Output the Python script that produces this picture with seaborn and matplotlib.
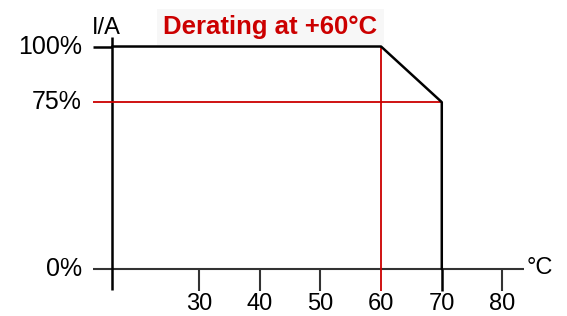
import matplotlib
matplotlib.use("Agg")
import matplotlib.pyplot as plt
import seaborn as sns
import pandas as pd

# -------------------------------
# Data
# -------------------------------
temp_c = [15.7, 60, 70, 70]          # derating curve, °C
current_pct = [100, 100, 75, 0]      # output current, %
x_ticks = [30, 40, 50, 60, 70, 80]
y_ticks = [0, 75, 100]
y_tick_labels = ["0%", "75%", "100%"]
derate_temp = 60
derate_level = 75
end_temp = 70

curve = pd.DataFrame({"Temp": temp_c, "Current": current_pct})

sns.set_style("white")
plt.rcParams["font.family"] = ["Liberation Sans", "DejaVu Sans"]
plt.rcParams["text.color"] = "black"

RED = "#cc0000"
AXIS = "#333333"
XLIM = (-2.78, 90.63)
YLIM = (-21.1, 120.9)

fig = plt.figure(figsize=(5.67, 3.16), dpi=100)
ax = fig.add_axes([0, 0, 1, 1])

# -------------------------------
# Axes drawn by hand
# -------------------------------
y_axis_x = temp_c[0]
ax.plot([12.5, 83.5], [0, 0], color=AXIS, lw=1.5, solid_capstyle="butt")
ax.plot([y_axis_x, y_axis_x], [-9.5, 104.3], color="black", lw=1.8, solid_capstyle="butt")
for t in x_ticks:
    if t not in (derate_temp, end_temp):
        ax.plot([t, t], [0, -9.9], color=AXIS, lw=1.5, solid_capstyle="butt")
    ax.text(t, -15.8, str(t), ha="center", va="center", fontsize=17, color="black")

for v, lab in zip(y_ticks, y_tick_labels):
    ax.text(10.7, v, lab, ha="right", va="center", fontsize=18, color="black")

# -------------------------------
# Red guide lines
# -------------------------------
ax.plot([derate_temp, derate_temp], [100, -9.9], color=RED, lw=1.3, solid_capstyle="butt")
ax.plot([12.5, end_temp], [derate_level, derate_level], color=RED, lw=1.3, solid_capstyle="butt")

# -------------------------------
# Derating curve
# -------------------------------
sns.lineplot(data=curve, x="Temp", y="Current", sort=False, estimator=None,
             color="black", lw=1.8, ax=ax, legend=False)
ax.plot([12.5, y_axis_x], [100, 100], color="black", lw=1.8, solid_capstyle="butt")
ax.plot([end_temp, end_temp], [0, -9.9], color="black", lw=1.8, solid_capstyle="butt")

# -------------------------------
# Labels
# -------------------------------
ax.text(14.8, 105.8, "I/A", ha="center", va="baseline", fontsize=17, color="black")
ax.text(84.0, 0.5, "°C", ha="left", va="center", fontsize=17, color="black")
ax.text(24.1, 108.8, "Derating at +60°C", ha="left", va="center", fontsize=18.5,
        fontweight="bold", color=RED, zorder=1,
        bbox=dict(boxstyle="square,pad=0.25", facecolor="#f7f7f7", edgecolor="none"))

ax.set_xlim(*XLIM)
ax.set_ylim(*YLIM)
ax.axis("off")

fig.savefig("out.png", dpi=100)
plt.close(fig)
